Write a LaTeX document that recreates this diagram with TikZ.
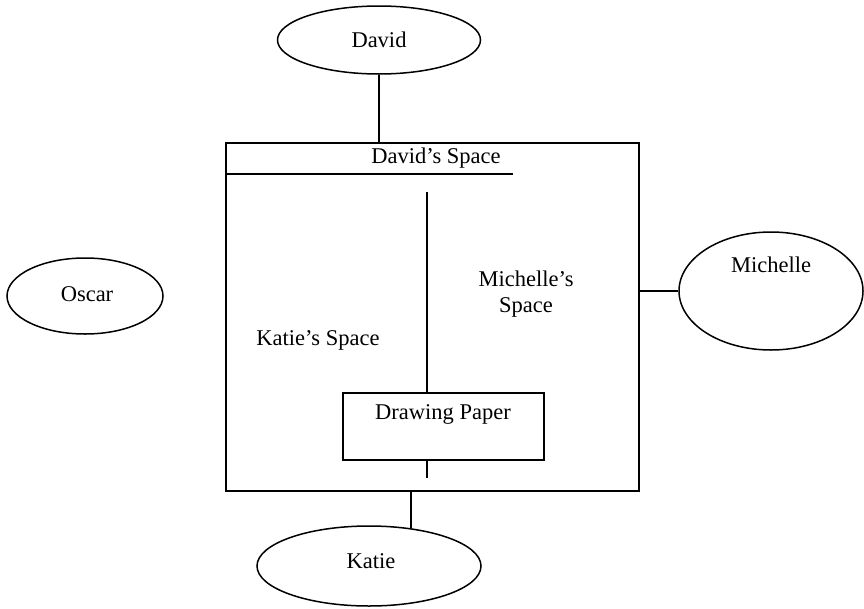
\documentclass[tikz,border=0pt]{standalone}
\usepackage{fontspec}
\setmainfont{Liberation Serif}
\usetikzlibrary{shapes.geometric}
\begin{document}
\begin{tikzpicture}[x=1pt,y=-1pt,line width=1.5pt,
  person/.style={draw,ellipse,inner sep=0pt},
  lbl/.style={font=\fontsize{22.5}{26}\selectfont,inner sep=0pt,align=center},
  boxnode/.style={draw,rectangle,inner sep=0pt}]
\useasboundingbox (0,0) rectangle (864,608);
% people
\node[person,minimum width=203pt,minimum height=68pt] (david) at (379,40) {};
\node[lbl] (davidt) at (379,40) {David};
\node[person,minimum width=184pt,minimum height=118pt] (michelle) at (771,291) {};
\node[lbl] (michellet) at (771,265) {Michelle};
\node[person,minimum width=156pt,minimum height=76pt] (oscar) at (85,296) {};
\node[lbl] (oscart) at (87,294) {Oscar};
\node[person,minimum width=224pt,minimum height=80pt] (katie) at (369,566) {};
\node[lbl] (katiet) at (371,561) {Katie};
% main box
\node[boxnode,minimum width=413pt,minimum height=348pt] (box) at (432.5,317) {};
\node[lbl] (dspace) at (436,158) {David's Space};
\coordinate (ul) at (513,174);
\draw (box.west |- ul) -- (ul);
\node[lbl] (kspace) at (318,340) {Katie's Space};
\node[lbl] (mspace) at (526,294) {Michelle's\\Space};
% drawing paper
\node[boxnode,minimum width=201pt,minimum height=67pt] (paper) at (443.5,426.5) {};
\node[lbl] (papert) at (443,414) {Drawing Paper};
\coordinate (divtop) at (427,192);
\coordinate (divbot) at (427,478);
\draw (divtop) -- (divtop |- paper.north);
\draw (divbot |- paper.south) -- (divbot);
% connectors
\draw (david.south) -- (david.south |- box.north);
\draw (michelle.west -| box.east) -- (michelle.west);
\draw (katie.42 |- box.south) -- (katie.42);
\end{tikzpicture}
\end{document}
